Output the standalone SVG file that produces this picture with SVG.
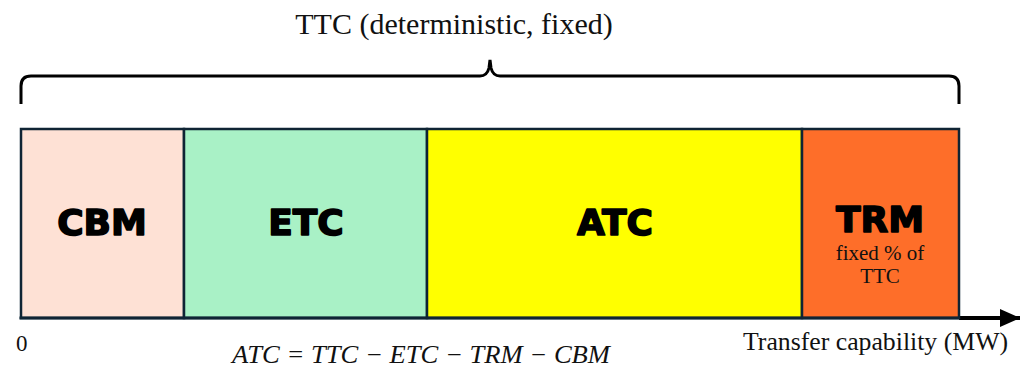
<svg xmlns="http://www.w3.org/2000/svg" width="1025" height="370" viewBox="0 0 1025 370">
<style>
.box{stroke:#0f2434;stroke-width:2.5}
.big{font-family:"DejaVu Sans","Liberation Sans",sans-serif;font-weight:bold;font-size:36px;fill:#000;stroke:#000;stroke-width:1.6;stroke-linejoin:round;text-anchor:middle}
.ser{font-family:"Liberation Serif","Times New Roman",serif;fill:#111}
</style>
<defs>
<marker id="ah" markerWidth="20" markerHeight="18" refX="20" refY="9" orient="auto" markerUnits="userSpaceOnUse">
<path d="M0,0 L20,9 L0,18 Z" fill="#000"/>
</marker>
</defs>
<rect width="1025" height="370" fill="#fff"/>
<text class="ser" x="454" y="34" font-size="30" text-anchor="middle">TTC (deterministic, fixed)</text>
<g id="connectors" fill="none" stroke="#000">
<path d="M21,104 L21,86 Q21,76 31,76 L480,76 Q487,76 489,68 L490,60 L491,68 Q493,76 500,76 L949,76 Q959,76 959,86 L959,104" stroke-width="3"/>
<line x1="959" y1="318" x2="1020" y2="318" stroke-width="4" marker-end="url(#ah)"/>
</g>
<g id="cbm">
<rect class="box" x="21" y="129" width="163" height="189" fill="#fee1d5"/>
<text class="big" x="102" y="235">CBM</text>
</g>
<g id="etc">
<rect class="box" x="184" y="129" width="243" height="189" fill="#a9f1c6"/>
<text class="big" x="306" y="235">ETC</text>
</g>
<g id="atc">
<rect class="box" x="427" y="129" width="375" height="189" fill="#ffff00"/>
<text class="big" x="615" y="235">ATC</text>
</g>
<g id="trm">
<rect class="box" x="802" y="129" width="157" height="189" fill="#fe6e29"/>
<text class="big" x="880" y="232">TRM</text>
<text class="ser" x="880" y="260" font-size="21" text-anchor="middle">fixed % of</text>
<text class="ser" x="880" y="283" font-size="21" text-anchor="middle">TTC</text>
</g>
<line x1="19.5" y1="318" x2="960" y2="318" stroke="#0f2434" stroke-width="3"/>
<text class="ser" x="16" y="351" font-size="23">0</text>
<text class="ser" x="1008" y="350" font-size="25.5" text-anchor="end" textLength="265" lengthAdjust="spacingAndGlyphs">Transfer capability (MW)</text>
<text class="ser" x="232" y="363" font-size="25" font-style="italic" textLength="378" lengthAdjust="spacingAndGlyphs">ATC = TTC − ETC − TRM − CBM</text>
</svg>
